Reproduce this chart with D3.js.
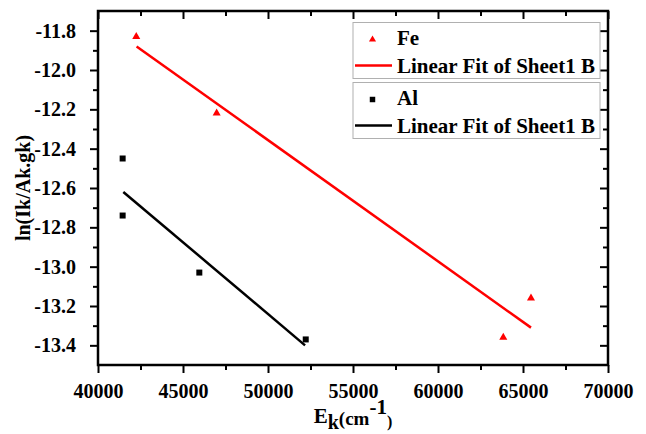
<!DOCTYPE html>
<html>
<head>
<meta charset="utf-8">
<script src="https://cdn.jsdelivr.net/npm/d3@7"></script>
<style>
  body { margin: 0; background: #fff; }
  text { font-family: "Liberation Serif", "Times New Roman", serif; font-weight: bold; }
</style>
</head>
<body>
<div id="chart"></div>
<script>
// Data
var feEnergy = [42250, 46980, 63840, 65470];
var feLn = [-11.83, -12.22, -13.36, -13.16];
var alEnergy = [41450, 41450, 45960, 52220];
var alLn = [-12.45, -12.74, -13.03, -13.37];

// Fit lines (end points)
var feFitEnergy = [42270, 65470];
var feFitLn = [-11.88, -13.31];
var alFitEnergy = [41490, 52180];
var alFitLn = [-12.62, -13.40];

var xTicks = [40000, 45000, 50000, 55000, 60000, 65000, 70000];
var xTickLabels = ["40000", "45000", "50000", "55000", "60000", "65000", "70000"];
var xMinor = [42500, 47500, 52500, 57500, 62500, 67500];
var yTicks = [-13.4, -13.2, -13.0, -12.8, -12.6, -12.4, -12.2, -12.0, -11.8];
var yTickLabels = ["-13.4", "-13.2", "-13.0", "-12.8", "-12.6", "-12.4", "-12.2", "-12.0", "-11.8"];
var yMinor = [-13.3, -13.1, -12.9, -12.7, -12.5, -12.3, -12.1, -11.9];

var legendLabels = ["Fe", "Linear Fit of Sheet1 B", "Al", "Linear Fit of Sheet1 B"];

// Set up chart
var svgWidth = 646;
var svgHeight = 434;
var margin = { top: 11, right: 38, bottom: 69, left: 98 };
var width = svgWidth - margin.left - margin.right;
var height = svgHeight - margin.top - margin.bottom;

var svg = d3.select("#chart").append("svg")
  .attr("width", svgWidth)
  .attr("height", svgHeight);

var chartGroup = svg.append("g")
  .attr("transform", `translate(${margin.left}, ${margin.top})`);

var x = d3.scaleLinear().domain([40000, 70000]).range([0, width]);
var y = d3.scaleLinear().domain([-13.5, -11.7]).range([height, 0]);

function styleAxis(g) {
  g.select(".domain").remove();
  g.selectAll("line").attr("stroke", "#000").attr("stroke-width", 2);
  g.selectAll("text").attr("fill", "#000").attr("font-size", 20)
    .attr("font-family", "'Liberation Serif', 'Times New Roman', serif")
    .attr("font-weight", "bold");
}

// Bottom axis
chartGroup.append("g").attr("transform", `translate(0, ${height})`)
  .call(d3.axisBottom(x).tickValues(xTicks).tickSize(8).tickPadding(11)
    .tickFormat((d, i) => xTickLabels[i]))
  .call(styleAxis);
chartGroup.append("g").attr("transform", `translate(0, ${height})`)
  .call(d3.axisBottom(x).tickValues(xMinor).tickSize(5).tickFormat(""))
  .call(styleAxis);

// Left axis
chartGroup.append("g")
  .call(d3.axisLeft(y).tickValues(yTicks).tickSize(8).tickPadding(14)
    .tickFormat((d, i) => yTickLabels[i]))
  .call(styleAxis);
chartGroup.append("g")
  .call(d3.axisLeft(y).tickValues(yMinor).tickSize(5).tickFormat(""))
  .call(styleAxis);

// Top and right axes, ticks pointing in
chartGroup.append("g")
  .call(d3.axisTop(x).tickValues(xTicks).tickSize(-8).tickFormat(""))
  .call(styleAxis);
chartGroup.append("g")
  .call(d3.axisTop(x).tickValues(xMinor).tickSize(-5).tickFormat(""))
  .call(styleAxis);
chartGroup.append("g").attr("transform", `translate(${width}, 0)`)
  .call(d3.axisRight(y).tickValues(yTicks).tickSize(-8).tickFormat(""))
  .call(styleAxis);
chartGroup.append("g").attr("transform", `translate(${width}, 0)`)
  .call(d3.axisRight(y).tickValues(yMinor).tickSize(-5).tickFormat(""))
  .call(styleAxis);

// Frame
chartGroup.append("rect")
  .attr("width", width).attr("height", height)
  .attr("fill", "none").attr("stroke", "#000").attr("stroke-width", 2.5);

// Fit lines
var line = d3.line().x(d => x(d[0])).y(d => y(d[1]));
chartGroup.append("path")
  .datum(d3.zip(feFitEnergy, feFitLn))
  .attr("d", line).attr("fill", "none").attr("stroke", "#ff0000").attr("stroke-width", 2.5);
chartGroup.append("path")
  .datum(d3.zip(alFitEnergy, alFitLn))
  .attr("d", line).attr("fill", "none").attr("stroke", "#000").attr("stroke-width", 2.5);

// Points
var triangle = d3.symbol().type(d3.symbolTriangle).size(28);
var square = d3.symbol().type(d3.symbolSquare).size(36);

chartGroup.selectAll(".fe")
  .data(d3.zip(feEnergy, feLn))
  .enter().append("path")
  .attr("class", "fe")
  .attr("d", triangle)
  .attr("transform", d => `translate(${x(d[0])}, ${y(d[1])})`)
  .attr("fill", "#ff0000");

chartGroup.selectAll(".al")
  .data(d3.zip(alEnergy, alLn))
  .enter().append("path")
  .attr("class", "al")
  .attr("d", square)
  .attr("transform", d => `translate(${x(d[0])}, ${y(d[1])})`)
  .attr("fill", "#000");

// Legends (two boxes)
function addLegend(top, color, symbol, i) {
  var lg = svg.append("g").attr("transform", `translate(353, ${top})`);
  lg.append("rect").attr("width", 247).attr("height", 56)
    .attr("fill", "#fff").attr("stroke", "#b0b0b0").attr("stroke-width", 1);
  lg.append("path").attr("d", symbol)
    .attr("transform", "translate(19.5, 17)").attr("fill", color);
  lg.append("text").attr("x", 44).attr("y", 22).attr("font-size", 21)
    .text(legendLabels[i]);
  lg.append("line").attr("x1", 2).attr("x2", 39).attr("y1", 43).attr("y2", 43)
    .attr("stroke", color).attr("stroke-width", 2.5);
  lg.append("text").attr("x", 44).attr("y", 50).attr("font-size", 21)
    .text(legendLabels[i + 1]);
}
addLegend(22.5, "#ff0000", d3.symbol().type(d3.symbolTriangle).size(22), 0);
addLegend(82.5, "#000", d3.symbol().type(d3.symbolSquare).size(30), 2);

// Axis labels
var xLabel = svg.append("text")
  .attr("x", margin.left + width / 2)
  .attr("y", 423)
  .attr("text-anchor", "middle")
  .attr("font-size", 21);
xLabel.append("tspan").text("E");
xLabel.append("tspan").attr("dy", 6).attr("font-size", 20).text("k");
xLabel.append("tspan").attr("dy", -4).attr("font-size", 19).text("(cm");
xLabel.append("tspan").attr("dy", -11).attr("font-size", 21).text("-1");
xLabel.append("tspan").attr("dy", 13).attr("font-size", 16).text(")");

svg.append("text")
  .attr("transform", `translate(30, ${margin.top + height / 2}) rotate(-90)`)
  .attr("text-anchor", "middle")
  .attr("font-size", 20)
  .text("ln(Ik/Ak.gk)");
</script>
</body>
</html>
